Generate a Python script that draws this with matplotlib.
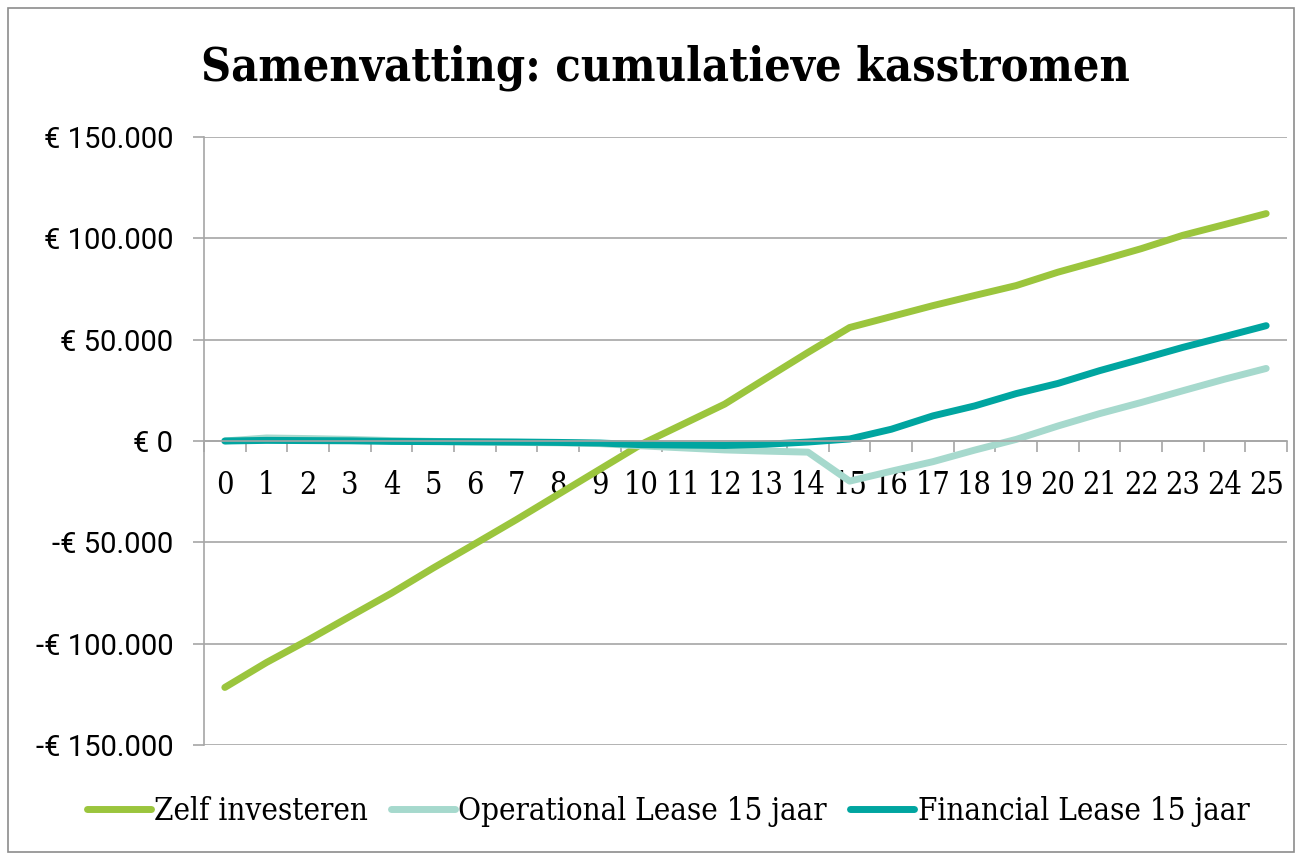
import matplotlib
matplotlib.use("Agg")
import matplotlib.pyplot as plt
from matplotlib.patches import Rectangle
from matplotlib.ticker import FuncFormatter, FixedLocator

years = list(range(26))
zelf = [-121600, -109300, -98200, -86600, -75100, -62700, -50800, -38800, -26400, -14000,
        -1600, 8300, 18200, 31000, 43700, 56000, 61400, 66800, 71800, 76700,
        83300, 89000, 94900, 101500, 106800, 112200]
operational = [0, 1500, 1200, 800, 200, -200, -500, -700, -900, -1300,
               -2400, -3400, -4400, -5000, -5500, -19800, -14900, -10200, -4500, 800,
               7400, 13500, 19000, 24800, 30500, 35800]
financial = [0, 300, 200, 100, -200, -300, -400, -500, -700, -1000,
             -1800, -2000, -2200, -1600, -500, 1000, 5800, 12400, 17300, 23400,
             28400, 34700, 40400, 46200, 51500, 56900]
series_names = ["Zelf investeren", "Operational Lease 15 jaar", "Financial Lease 15 jaar"]
colors = ["#9BC53D", "#A6D9CD", "#00A5A0"]
title = "Samenvatting: cumulatieve kasstromen"
y_ticks = [-150000, -100000, -50000, 0, 50000, 100000, 150000]

SLAB = ["DejaVu Serif"]

def euro(v, pos=None):
    v = int(v)
    s = f"{abs(v):,}".replace(",", ".")
    return ("-€ " if v < 0 else "€ ") + s

fig = plt.figure(figsize=(13.02, 8.55), dpi=100)
fig.patches.append(Rectangle((8/1302, 0.004), 1 - 16/1302, 1 - 8/855 - 0.004,
                             transform=fig.transFigure, fill=False,
                             edgecolor="#8c8c8c", linewidth=1.2))

ax = fig.add_axes([204/1302, 1 - 745/855, (1287 - 204)/1302, (745 - 137)/855])

for vals, name, c in zip([zelf, operational, financial], series_names, colors):
    ax.plot(years, vals, color=c, lw=5, label=name, solid_capstyle="round",
            solid_joinstyle="round")

ax.set_xlim(-0.5, 25.5)
ax.set_ylim(-150000, 150000)
ax.yaxis.set_major_locator(FixedLocator(y_ticks))
ax.yaxis.set_major_formatter(FuncFormatter(euro))
ax.grid(axis="y", color="#a6a6a6", lw=1.2)
ax.set_axisbelow(True)

for s in ["top", "right"]:
    ax.spines[s].set_visible(False)
ax.spines["left"].set_color("#a6a6a6")
ax.spines["left"].set_linewidth(1.2)
ax.spines["bottom"].set_position(("data", 0))
ax.spines["bottom"].set_color("#a6a6a6")
ax.spines["bottom"].set_linewidth(1.2)

ax.tick_params(axis="y", length=8, color="#a6a6a6", width=1.2, pad=14,
               labelsize=21)
for lab in ax.get_yticklabels():
    lab.set_family(["Roboto", "DejaVu Sans"])

ax.set_xticks(years)
ax.set_xticklabels([str(y) for y in years])
ax.set_xticks([y - 0.5 for y in years] + [25.5], minor=True)
ax.tick_params(axis="x", which="major", length=0, pad=21, labelsize=22)
ax.tick_params(axis="x", which="minor", length=8, color="#a6a6a6", width=1.2,
               direction="out")
for lab in ax.get_xticklabels():
    lab.set_family(SLAB)
    lab.set_fontstretch("condensed")

fig.text(0.511, 1 - 68/855, title, ha="center", va="center", fontsize=33.5,
         fontweight="bold", family=SLAB, fontstretch="condensed")

leg = fig.legend(loc="center", bbox_to_anchor=(0.513, 1 - 811/855), ncol=3,
                 frameon=False, handlelength=2.05, handletextpad=0.1,
                 columnspacing=0.75, prop={"family": SLAB, "size": 22.5,
                                           "stretch": "condensed"})

fig.savefig("out.png", dpi=100, facecolor="white")
